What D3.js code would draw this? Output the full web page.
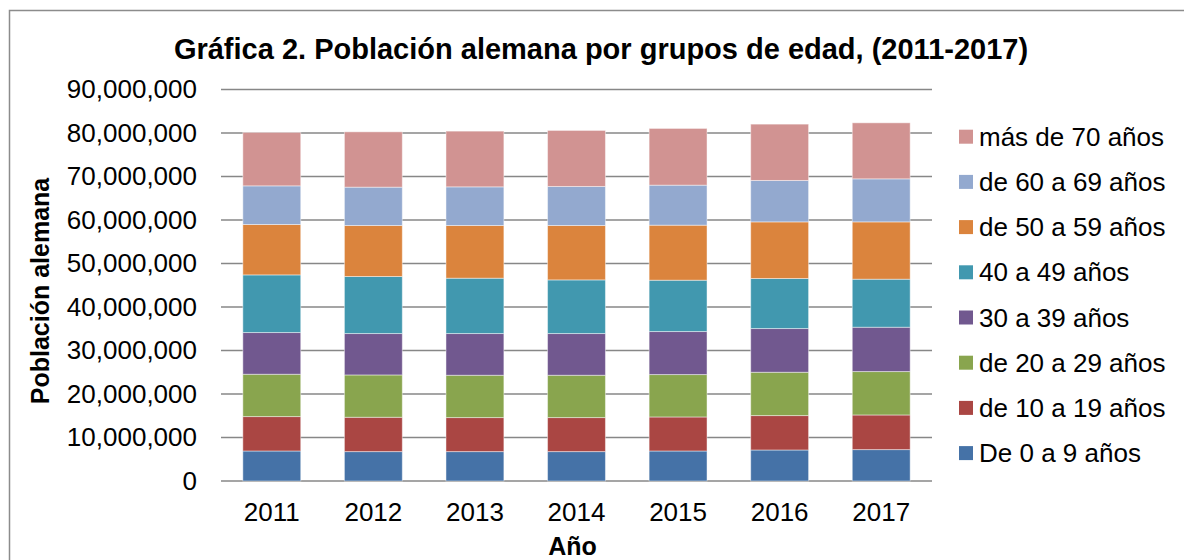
<!DOCTYPE html>
<html>
<head>
<meta charset="utf-8">
<script src="https://cdn.jsdelivr.net/npm/d3@7"></script>
<style>
  body { margin: 0; background: #fff; }
  svg { display: block; font-family: "Liberation Sans", Arial, sans-serif; }
</style>
</head>
<body>
<div id="chart"></div>
<script>
// Población alemana por grupos de edad, 2011-2017 (stacked bars)

const years = ['2011', '2012', '2013', '2014', '2015', '2016', '2017'];
const groups = ['De 0 a 9 años', 'de 10 a 19 años', 'de 20 a 29 años', '30 a 39 años',
  '40 a 49 años', 'de 50 a 59 años', 'de 60 a 69 años', 'más de 70 años'];
const groupColors = ['#4572a7', '#aa4643', '#89a54e', '#71588f', '#4198af', '#db843d', '#93a9cf', '#d19392'];

// values in millions, one array per age group (2011..2017)
const age0_9   = [6.90, 6.76, 6.76, 6.76, 6.90, 7.13, 7.22];
const age10_19 = [7.91, 7.89, 7.82, 7.82, 7.82, 7.91, 7.96];
const age20_29 = [9.73, 9.73, 9.73, 9.73, 9.75, 9.96, 9.98];
const age30_39 = [9.59, 9.52, 9.59, 9.59, 9.89, 10.05, 10.19];
const age40_49 = [13.25, 13.11, 12.72, 12.33, 11.80, 11.50, 11.04];
const age50_59 = [11.59, 11.73, 12.12, 12.51, 12.65, 13.02, 13.18];
const age60_69 = [8.88, 8.81, 8.88, 8.97, 9.20, 9.52, 9.89];
const age70up  = [12.28, 12.72, 12.81, 12.88, 13.04, 12.95, 12.88];
const seriesValues = [age0_9, age10_19, age20_29, age30_39, age40_49, age50_59, age60_69, age70up];

const yTicks = d3.range(0, 90000001, 10000000);

const W = 1184, H = 560;
const plot = {left: 221, right: 932, top: 89.5, bottom: 481};

const svg = d3.select('#chart').append('svg')
  .attr('width', W).attr('height', H);

// chart border (right and bottom edges fall outside the picture)
svg.append('rect')
  .attr('x', 9.5).attr('y', 10.5).attr('width', 1300).attr('height', 700)
  .attr('fill', 'none').attr('stroke', '#8c8c8c').attr('stroke-width', 1.5);

// table for the stack
const table = years.map((yr, i) => {
  const row = {year: yr};
  groups.forEach((g, j) => { row[g] = seriesValues[j][i] * 1e6; });
  return row;
});
const stacked = d3.stack().keys(groups)(table);

const x = d3.scaleBand().domain(years).range([plot.left, plot.right])
  .paddingInner(0.43).paddingOuter(0.215);
const y = d3.scaleLinear().domain([0, 90000000]).range([plot.bottom, plot.top]);
const color = d3.scaleOrdinal().domain(groups).range(groupColors);

// gridlines
svg.append('g').selectAll('line')
  .data(yTicks).enter().append('line')
  .attr('x1', plot.left).attr('x2', plot.right)
  .attr('y1', d => y(d)).attr('y2', d => y(d))
  .attr('stroke', '#878787').attr('stroke-width', 1.5);

// bars
svg.append('g').selectAll('g')
  .data(stacked).enter().append('g')
  .attr('fill', d => color(d.key))
  .selectAll('rect')
  .data(d => d).enter().append('rect')
  .attr('x', d => x(d.data.year))
  .attr('y', d => y(d[1]))
  .attr('width', x.bandwidth())
  .attr('height', d => y(d[0]) - y(d[1]))
  .attr('stroke', 'rgba(255,255,255,0.45)').attr('stroke-width', 1);

// y axis labels
const yAxis = svg.append('g').attr('transform', `translate(${plot.left},0)`)
  .call(d3.axisLeft(y).tickValues(yTicks).tickFormat(d3.format(',')).tickSize(0).tickPadding(24));
yAxis.select('.domain').remove();
yAxis.selectAll('text').attr('font-size', 26).attr('fill', '#000')
  .attr('font-family', '"Liberation Sans", Arial, sans-serif');

// x axis labels
const xAxis = svg.append('g').attr('transform', `translate(0,${plot.bottom})`)
  .call(d3.axisBottom(x).tickSize(0).tickPadding(22));
xAxis.select('.domain').remove();
xAxis.selectAll('text').attr('font-size', 26).attr('fill', '#000')
  .attr('font-family', '"Liberation Sans", Arial, sans-serif');

// title
svg.append('text').attr('x', 601).attr('y', 59).attr('text-anchor', 'middle')
  .attr('font-size', 29).attr('font-weight', 'bold').attr('fill', '#000')
  .text('Gráfica 2. Población alemana por grupos de edad, (2011-2017)');

// axis titles
svg.append('text').attr('x', (plot.left + plot.right) / 2 - 4).attr('y', 555).attr('text-anchor', 'middle')
  .attr('font-size', 25).attr('font-weight', 'bold').attr('fill', '#000').text('Año');
svg.append('text').attr('transform', 'translate(49,291) rotate(-90)').attr('text-anchor', 'middle')
  .attr('font-size', 25).attr('font-weight', 'bold').attr('fill', '#000').text('Población alemana');

// legend, top entry is the last series
const legend = svg.append('g').selectAll('g')
  .data(groups.slice().reverse()).enter().append('g')
  .attr('transform', (d, i) => `translate(959,${136.7 + i * 45.2})`);
legend.append('rect').attr('x', 0).attr('y', -7).attr('width', 14).attr('height', 14)
  .attr('fill', d => color(d));
legend.append('text').attr('x', 20).attr('dy', '0.35em')
  .attr('font-size', 26).attr('fill', '#000').text(d => d);
</script>
</body>
</html>
